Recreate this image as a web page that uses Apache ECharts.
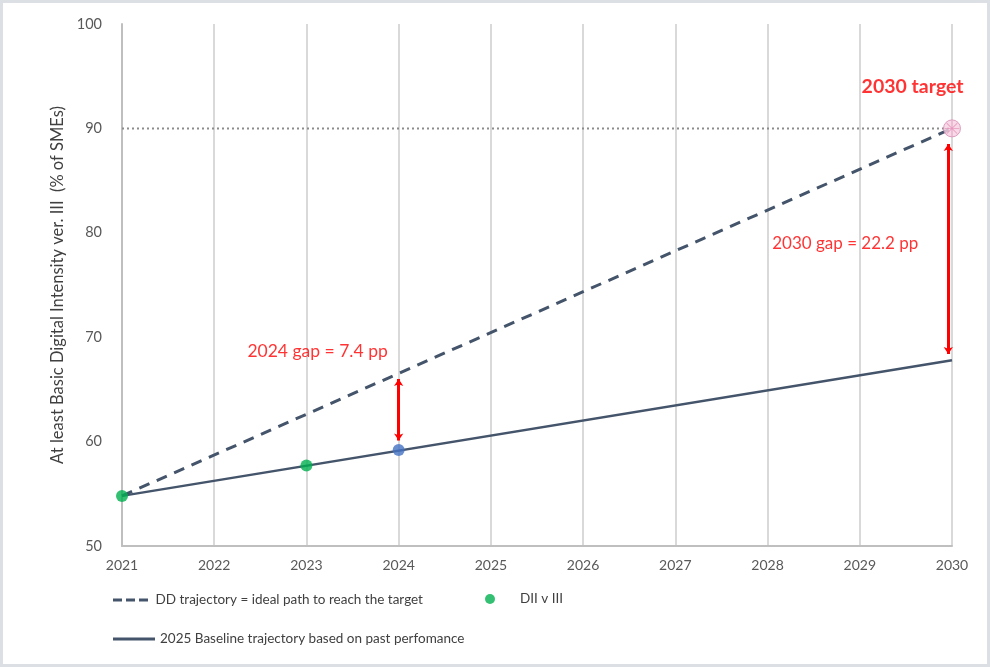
<!DOCTYPE html>
<html>
  <head>
    <meta charset="utf-8" />
    <title>Digital Intensity trajectory</title>
    <script src="https://cdn.jsdelivr.net/npm/echarts@6.0.0/dist/echarts.min.js"></script>
    <style>
      body {
        margin: 0;
        padding: 0;
        background: #fff;
      }
      #main {
        width: 984px;
        height: 661px;
        border: 3px solid #dcdfe4;
        background: #fff;
      }
    </style>
  </head>
  <body>
    <div id="main"></div>
    <script type="text/javascript">
      // data
      var years = [2021, 2022, 2023, 2024, 2025, 2026, 2027, 2028, 2029, 2030];
      var yTicks = [50, 60, 70, 80, 90, 100];
      var ddTrajectory = [[2021, 54.8], [2030, 90]]; // ideal path
      var baseline = [[2021, 54.8], [2030, 67.8]]; // past performance
      var diiYears = [2021, 2023, 2024];
      var diiValues = [54.8, 57.7, 59.2];
      var targetValue = 90;
      var gap2024 = [[2024, 66.0], [2024, 60.1]];
      var gap2030 = [[2029.96, 88.5], [2029.96, 68.4]];
      var notes = [
        { text: "2030 target", x: 2029.02, y: 94.0, size: 19.5, bold: true },
        { text: "2024 gap = 7.4 pp", x: 2022.36, y: 68.6, size: 17.5, bold: false },
        { text: "2030 gap = 22.2 pp", x: 2028.05, y: 79.0, size: 17, bold: false },
      ];

      var FONT = "Lato";
      var lineColor = "#44546a";
      var chart = echarts.init(document.getElementById("main"));

      var dashIcon = "path://M0,0h9v3h-9z M13,0h9v3h-9z M26,0h9v3h-9z";
      var legendText = { fontFamily: FONT, fontSize: 13.5, color: "#404040" };

      var option = {
        animation: false,
        textStyle: { fontFamily: FONT },
        grid: { left: 119, right: 35, top: 21, bottom: 118 },
        legend: [
          {
            left: 105,
            top: 585,
            itemWidth: 40,
            itemHeight: 3,
            textStyle: legendText,
            data: [{ name: "DD trajectory = ideal path to reach the target", icon: dashIcon }],
          },
          {
            left: 477,
            top: 584,
            itemWidth: 10,
            itemHeight: 10,
            itemGap: 0,
            textStyle: Object.assign({}, legendText, { padding: [0, 0, 0, 20] }),
            data: [{ name: "DII v III", icon: "circle" }],
          },
          {
            left: 105,
            top: 624,
            itemWidth: 42,
            itemHeight: 3,
            textStyle: legendText,
            data: [{ name: "2025 Baseline trajectory based on past perfomance", icon: "rect" }],
          },
        ],
        xAxis: {
          type: "value",
          min: years[0],
          max: years[years.length - 1],
          interval: 1,
          axisLine: { show: true, lineStyle: { color: "#bfbfbf", width: 2 } },
          axisTick: { show: false },
          splitLine: { show: true, lineStyle: { color: "#d9d9d9", width: 2 } },
          axisLabel: {
            color: "#595959",
            fontSize: 14,
            margin: 12,
            formatter: function (v) {
              return years.indexOf(v) >= 0 ? String(v) : "";
            },
          },
        },
        yAxis: {
          type: "value",
          min: yTicks[0],
          max: yTicks[yTicks.length - 1],
          interval: 10,
          name: "At least Basic Digital Intensity ver. III  (% of SMEs)",
          nameLocation: "middle",
          nameGap: 48,
          nameTextStyle: { color: "#404040", fontSize: 16.5, fontFamily: FONT },
          axisLine: { show: true, lineStyle: { color: "#bfbfbf", width: 2 } },
          axisTick: { show: false },
          splitLine: { show: false },
          axisLabel: { color: "#595959", fontSize: 14.5, margin: 20 },
        },
        series: [
          {
            name: "target line",
            type: "line",
            data: [[years[0], targetValue], [years[years.length - 1], targetValue]],
            symbol: "none",
            lineStyle: { color: "#8c8c8c", width: 2, type: [2, 3] },
            z: 1,
            silent: true,
          },
          {
            name: "DD trajectory = ideal path to reach the target",
            type: "line",
            data: ddTrajectory,
            symbol: "none",
            color: lineColor,
            lineStyle: { color: lineColor, width: 3, type: [11, 8] },
            z: 2,
          },
          {
            name: "2025 Baseline trajectory based on past perfomance",
            type: "line",
            data: baseline,
            symbol: "none",
            color: lineColor,
            lineStyle: { color: lineColor, width: 2.5 },
            z: 2,
          },
          {
            name: "gaps",
            type: "lines",
            coordinateSystem: "cartesian2d",
            symbol: ["arrow", "arrow"],
            symbolSize: 7,
            lineStyle: { color: "#ff0000", width: 3, opacity: 1 },
            data: [{ coords: gap2024 }, { coords: gap2030 }],
            z: 3,
          },
          {
            name: "DII v III",
            type: "scatter",
            symbolSize: 12,
            color: "#00b050",
            data: diiYears.map(function (y, i) {
              var d = { value: [y, diiValues[i]] };
              if (y === 2024) d.itemStyle = { color: "#4472c4" };
              return d;
            }),
            z: 5,
          },
          {
            name: "target",
            type: "scatter",
            symbolSize: 17,
            data: [[years[years.length - 1], targetValue]],
            itemStyle: { color: "#f5d0e2", borderColor: "#d68ab2", borderWidth: 1 },
            z: 6,
          },
          {
            name: "target cross",
            type: "scatter",
            symbol:
              "path://M9.5,0h1v20h-1z M0,9.5h20v1h-20z M2.6,3.3l0.7,-0.7l14.1,14.1l-0.7,0.7z M16.7,2.6l0.7,0.7l-14.1,14.1l-0.7,-0.7z",
            symbolSize: 15,
            data: [[years[years.length - 1], targetValue]],
            itemStyle: { color: "#e58bb4" },
            z: 7,
          },
          {
            name: "notes",
            type: "scatter",
            symbolSize: 0,
            silent: true,
            data: notes.map(function (n) {
              return {
                value: [n.x, n.y],
                label: {
                  show: true,
                  position: "right",
                  distance: 0,
                  formatter: n.text,
                  color: "#ff0000",
                  fontFamily: FONT,
                  fontSize: n.size,
                  fontWeight: n.bold ? "bold" : "normal",
                },
              };
            }),
            z: 8,
          },
        ],
      };

      chart.setOption(option);
    </script>
  </body>
</html>
